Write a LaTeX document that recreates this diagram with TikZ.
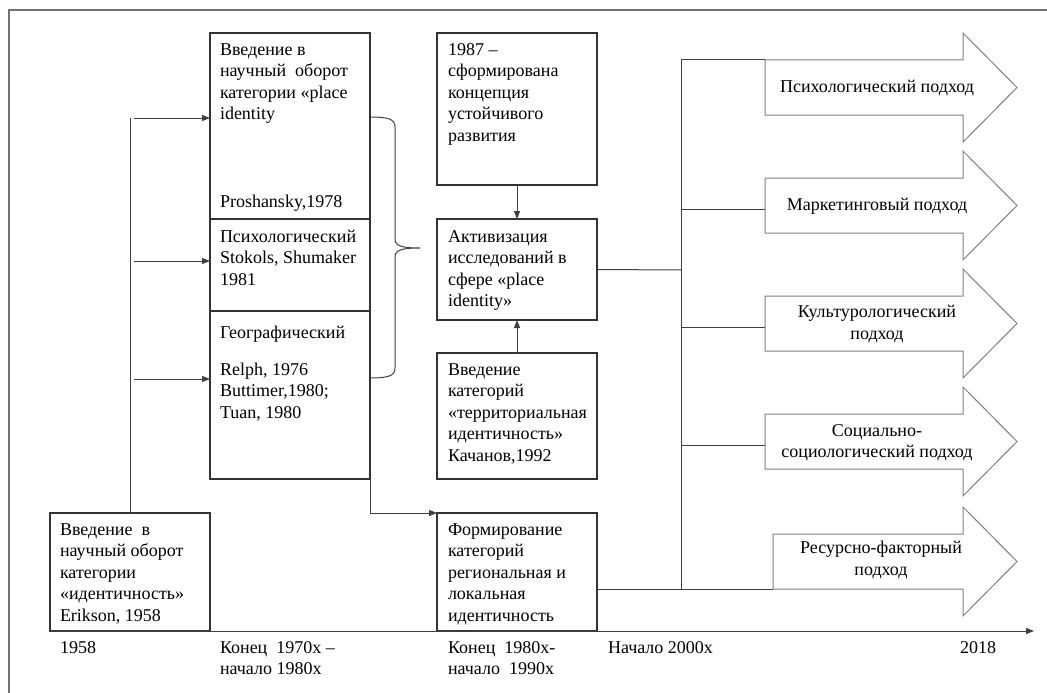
\documentclass[tikz,border=0pt]{standalone}
\usepackage{fontspec}
\setmainfont{Liberation Serif}
\usetikzlibrary{arrows.meta}
\begin{document}
\begin{tikzpicture}[x=1pt,y=-1pt,
  box/.style={draw=black!80,line width=1.1pt,rectangle,inner sep=0pt,outer sep=0pt,anchor=north west},
  txt/.style={anchor=north west,inner sep=0pt,outer sep=0pt,align=left,font=\fontsize{18}{21.5}\selectfont},
  ctxt/.style={anchor=center,inner sep=0pt,outer sep=0pt,align=center,font=\fontsize{18}{21.5}\selectfont},
  body/.style={draw=none,rectangle,inner sep=0pt,outer sep=0pt,minimum width=198pt,minimum height=55pt},
  shp/.style={draw=black!50,line width=1pt,line join=miter},
  conn/.style={draw=black!75,line width=1pt},
  arr/.style={conn,-{Triangle[length=8pt,width=6pt]}},
  frame/.style={draw=black!55,line width=1.2pt}
]
\useasboundingbox (0,0) rectangle (1047,693);
\draw[frame] (9,693) -- (9,10) -- (1047,10);

% left column
\node[box,minimum width=160pt,minimum height=186pt] (b1) at (210,33) {};
\node[box,minimum width=160pt,minimum height=92pt] (b2) at (210,219) {};
\node[box,minimum width=160pt,minimum height=168pt] (b3) at (210,311) {};
\node[box,minimum width=160pt,minimum height=118pt] (eri) at (50,513) {};

\node[txt] (t1) at (220,40) {\strut Введение в\\научный\ \ оборот\\категории «place\\identity};
\node[txt] (tp) at (220,192) {\strut Proshansky,1978};
\node[txt] (t2) at (220,227) {\strut Психологический\\Stokols, Shumaker\\1981};
\node[txt] (t3a) at (220,323) {\strut Географический};
\node[txt] (t3b) at (220,360) {\strut Relph, 1976\\Buttimer,1980;\\Tuan, 1980};
\node[txt] (te) at (60,520) {\strut Введение\ \ в\\научный оборот\\категории\\«идентичность»\\Erikson, 1958};

% center column
\node[box,minimum width=160pt,minimum height=152pt] (k87) at (437,33) {};
\node[box,minimum width=160pt,minimum height=101pt] (akt) at (437,219) {};
\node[box,minimum width=160pt,minimum height=126pt] (kach) at (437,353) {};
\node[box,minimum width=160pt,minimum height=118pt] (form) at (437,513) {};

\node[txt] (c1) at (448,40) {\strut 1987 –\\сформирована\\концепция\\устойчивого\\развития};
\node[txt] (c2) at (448,227) {\strut Активизация\\исследований\ в\\сфере «place\\identity»};
\node[txt] (c3) at (448,360) {\strut Введение\\категорий\\«территориальная\\идентичность»\\Качанов,1992};
\node[txt] (c4) at (448,520) {\strut Формирование\\категорий\\региональная\ и\\локальная\\идентичность};

% axis
\coordinate (axend) at (1034,631);
\draw[arr] (eri.south west) -- (axend);
\node[txt] (l1) at (60,638) {\strut 1958};
\node[txt] (l2) at (220,638) {\strut Конец\ \ 1970х –\\начало 1980х};
\node[txt] (l3) at (448,638) {\strut Конец\ \ 1980х-\\начало\ \ 1990х};
\node[txt] (l4) at (608,638) {\strut Начало 2000х};
\node[txt] (l5) at (960,638) {\strut 2018};

% left connectors
\coordinate (vtop) at (130,118);
\draw[conn] (eri.north) -- (vtop);
\draw[arr] ([yshift=8pt]b1.west -| 134,0) -- ([yshift=8pt]b1.west);
\draw[arr] ([yshift=4pt]b2.west -| 134,0) -- ([yshift=4pt]b2.west);
\draw[arr] ([yshift=16pt]b3.west -| 134,0) -- ([yshift=16pt]b3.west);
\draw[arr] (b3.south east) |- (form.north west);

% brace
\draw[conn,line width=1pt] (370,117) .. controls (388,117) and (395,119) .. (395,127) -- (395,239)
  .. controls (395,246) and (402,248) .. (420,248)
  .. controls (402,248) and (395,250) .. (395,257) -- (395,368)
  .. controls (395,376) and (388,378) .. (370,378);

% center arrows
\draw[arr] (k87.south) -- (akt.north);
\draw[arr] (kach.north) -- (akt.south);

% approach arrows
\node[body] (p1) at (864,87.5) {};
\node[body] (p2) at (864,205.5) {};
\node[body] (p3) at (864,323.5) {};
\node[body] (p4) at (864,441.5) {};
\node[body,minimum width=190pt] (p5) at (868,561.5) {};
\foreach \p in {p1,p2,p3,p4,p5}{
  \draw[shp] (\p.south west) -- (\p.north west) -- (\p.north east) -- ++(0,-27)
    -- ([xshift=54pt]\p.east) -- ([yshift=-27pt]\p.south east) -- (\p.south east) -- cycle;
}
\node[ctxt] (q1) at (877,88) {Психологический подход};
\node[ctxt] (q2) at (877,206) {Маркетинговый подход};
\node[ctxt] (q3) at (877,324) {Культурологический\\подход};
\node[ctxt] (q4) at (877,443) {Социально-\\социологический подход};
\node[ctxt] (q5) at (881,560) {Ресурсно-факторный\\подход};

% right connectors
\coordinate (hub) at (681,270);
\coordinate (hubtop) at (681,60);
\coordinate (hubbot) at (681,589);
\draw[conn] (akt.east) -- (hub);
\draw[conn] (hubtop) -- (hubbot);
\draw[conn] (hubtop) -- (p1.north west);
\draw[conn] ([yshift=-4pt]p2.west -| hub) -- ([yshift=-4pt]p2.west);
\draw[conn] ([yshift=-4pt]p3.west -| hub) -- ([yshift=-4pt]p3.west);
\draw[conn] ([yshift=-4pt]p4.west -| hub) -- ([yshift=-4pt]p4.west);
\draw[conn] ([yshift=-17pt]form.east) -- (p5.south west);
\end{tikzpicture}
\end{document}
